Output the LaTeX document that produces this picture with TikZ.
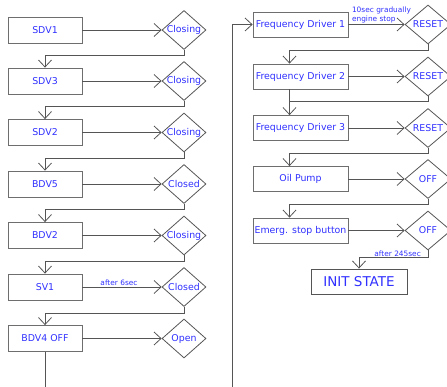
\documentclass[tikz,border=0pt]{standalone}
\usepackage{fontspec}
\setmainfont{DejaVu Sans}
\usepackage{xcolor}
\usepackage{tikz}
\usetikzlibrary{positioning,arrows.meta,calc,shapes.geometric}

\definecolor{txtblue}{RGB}{48,48,255}
\definecolor{linegray}{RGB}{85,85,85}
\definecolor{boxgray}{RGB}{110,110,110}

\begin{document}
\begin{tikzpicture}[
  x=1pt, y=-1pt,
  txt/.style={text=txtblue, font=\fontsize{9.4}{11}\selectfont},
  box/.style={draw=boxgray, line width=0.8pt, minimum width=74pt, minimum height=26pt, inner sep=1pt, txt},
  wbox/.style={box, minimum width=95pt, minimum height=25pt},
  cond/.style={diamond, draw=linegray, line width=0.8pt, minimum width=44pt, minimum height=39pt, inner sep=0pt, label={[txt]center:#1}},
  wcond/.style={cond=#1, minimum width=46pt},
  arr/.style={-{Straight Barb[length=7pt,width=13pt]}, line width=0.8pt, linegray},
  ln/.style={line width=0.8pt, linegray},
  note/.style={text=txtblue, font=\fontsize{7.4}{8.8}\selectfont, inner sep=1pt}
]
\useasboundingbox (0,0) rectangle (447,387);

\node[box] (sdv1) at (45,30) {SDV1};
\node[box] (sdv3) at (45,81) {SDV3};
\node[box] (sdv2) at (45,132.5) {SDV2};
\node[box] (bdv5) at (45,184) {BDV5};
\node[box] (bdv2) at (45,235.5) {BDV2};
\node[box] (sv1) at (45,287) {SV1};
\node[box] (bdv4) at (45,338.5) {BDV4 OFF};

\node[cond=Closing] (c1) at (184,30) {};
\node[cond=Closing] (c2) at (184,81) {};
\node[cond=Closing] (c3) at (184,132.5) {};
\node[cond=Closed] (c4) at (184,184) {};
\node[cond=Closing] (c5) at (184,235.5) {};
\node[cond=Closed] (c6) at (184,287) {};
\node[cond=Open] (c7) at (184,338.5) {};

\draw[arr] (sdv1.east) -- (c1.west);
\draw[arr] (sdv3.east) -- (c2.west);
\draw[arr] (sdv2.east) -- (c3.west);
\draw[arr] (bdv5.east) -- (c4.west);
\draw[arr] (bdv2.east) -- (c5.west);
\draw[arr] (sv1.east) -- node[note, above, xshift=-3pt] {after 6sec} (c6.west);
\draw[arr] (bdv4.east) -- (c7.west);

\draw[arr] (c1.south) -- ++(0,6) -| (sdv3.north);
\draw[arr] (c2.south) -- ++(0,6) -| (sdv2.north);
\draw[arr] (c3.south) -- ++(0,6) -| (bdv5.north);
\draw[arr] (c4.south) -- ++(0,6) -| (bdv2.north);
\draw[arr] (c5.south) -- ++(0,6) -| (sv1.north);
\draw[arr] (c6.south) -- ++(0,6) -| (bdv4.north);

\node[wbox] (fd1) at (300.5,24.5) {Frequency Driver 1};
\node[wbox] (fd2) at (300.5,76.5) {Frequency Driver 2};
\node[wbox] (fd3) at (300.5,128) {Frequency Driver 3};
\node[wbox] (oil) at (300.5,179) {Oil Pump};
\node[wbox] (estop) at (300.5,230.5) {Emerg. stop button};

\node[wcond=RESET] (r1) at (428,24.5) {};
\node[wcond=RESET] (r2) at (428,76.5) {};
\node[wcond=RESET] (r3) at (428,128) {};
\node[wcond=OFF] (r4) at (428,179) {};
\node[wcond=OFF] (r5) at (428,230.5) {};

\node[draw=linegray, line width=0.9pt, minimum width=96pt, minimum height=25pt, inner sep=1pt,
      text=txtblue, font=\fontsize{13.5}{16}\selectfont] (init) at (359,281.5) {INIT STATE};

\draw[arr] (fd1.east) -- node[note, above, align=left, xshift=5pt] {10sec gradually\\engine stop} (r1.west);
\draw[arr] (fd2.east) -- (r2.west);
\draw[arr] (fd3.east) -- (r3.west);
\draw[arr] (oil.east) -- (r4.west);
\draw[arr] (estop.east) -- (r5.west);

\draw[arr] (r1.south) -- ++(0,6) -| ($(fd2.north)+(-11,0)$);
\draw[arr] ($(fd2.south)+(-11,0)$) -- ($(fd3.north)+(-11,0)$);
\draw[ln] (r2.south) |- ($(fd3.north)+(-11,-13.5)$);
\draw[arr] (r3.south) -- ++(0,6) -| ($(oil.north)+(-11,0)$);
\draw[arr] (r4.south) -- ++(0,6) -| ($(estop.north)+(-11,0)$);
\draw[arr] (r5.south) -- ++(0,7.5) -| node[note, above, pos=0.22] {after 245sec} (init.north);

\coordinate (turn) at (232,420);
\draw[arr] (bdv4.south) |- (turn) |- (fd1.west);
\end{tikzpicture}
\end{document}
